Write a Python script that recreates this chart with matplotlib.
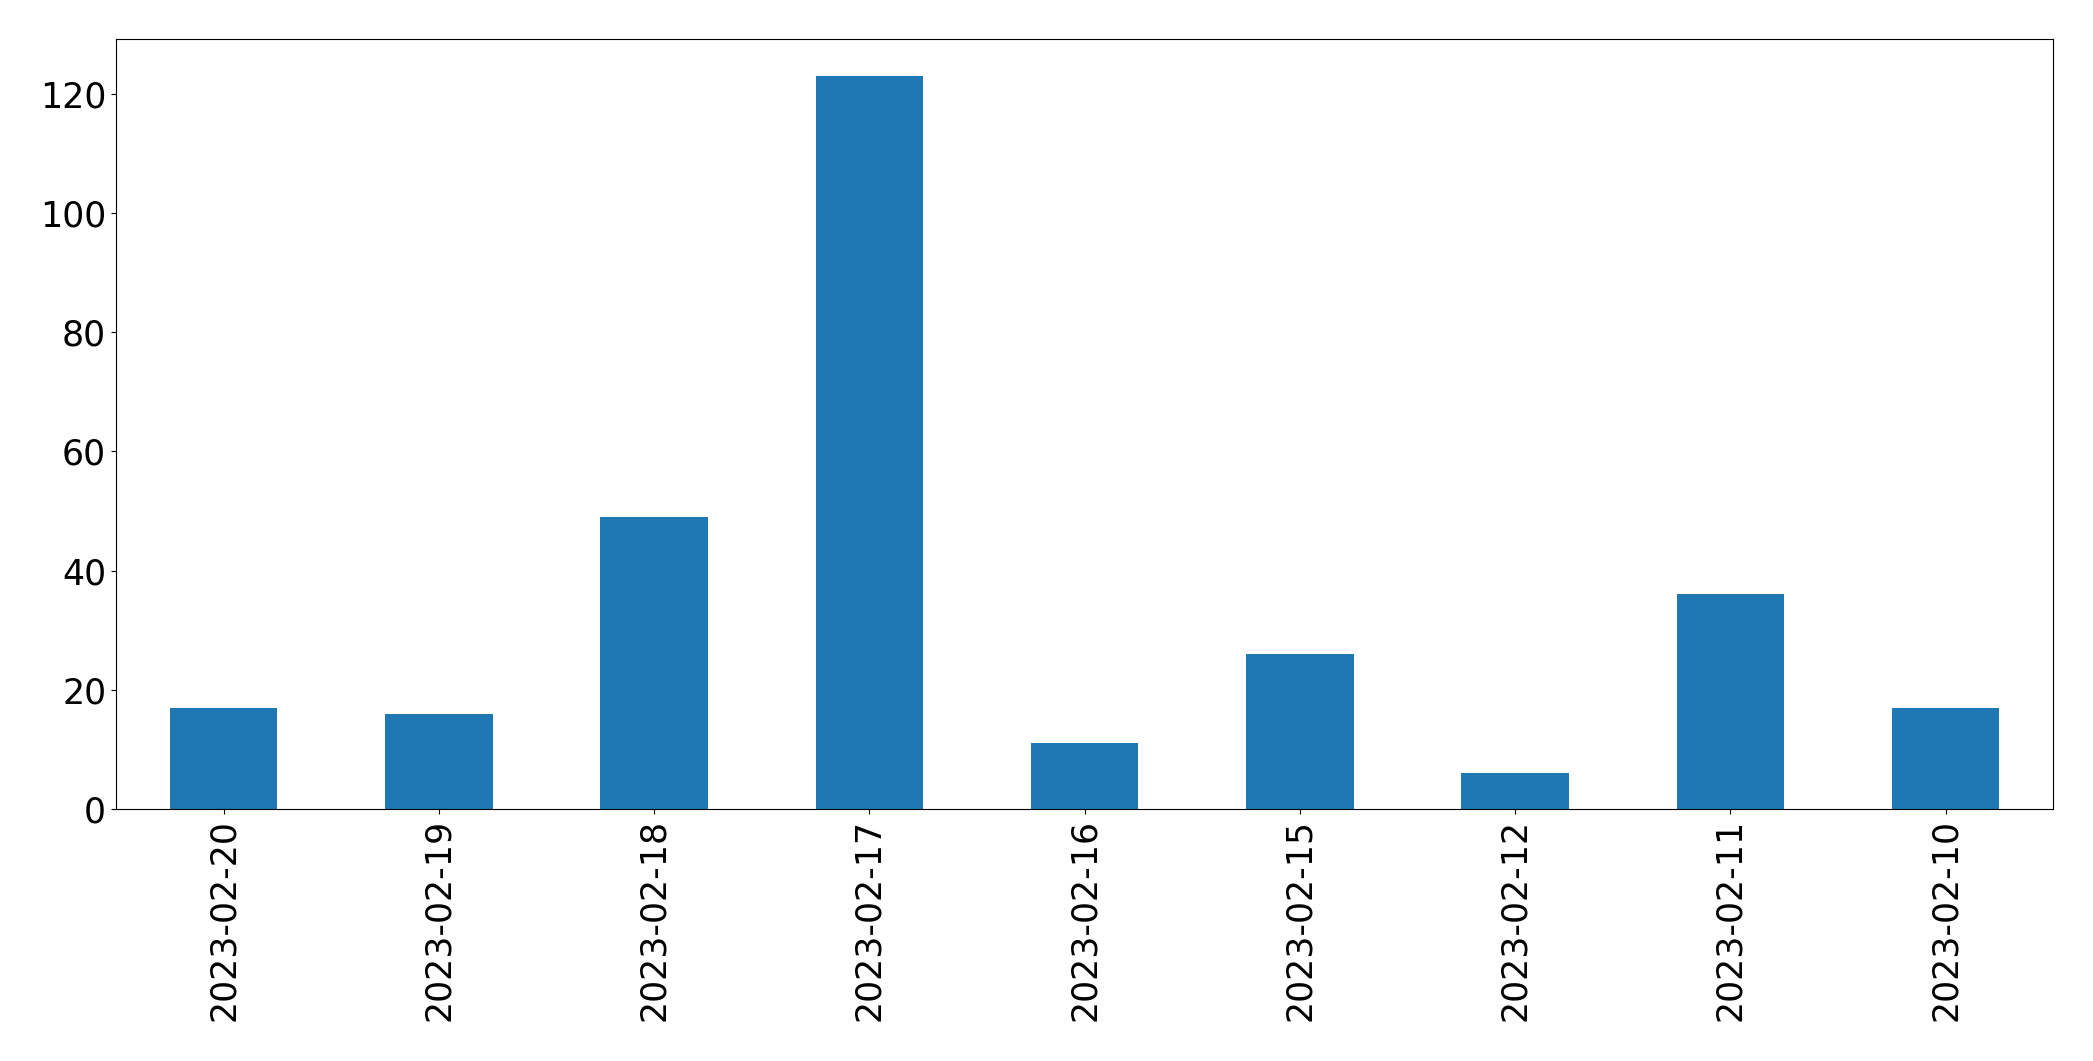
import numpy as np
import matplotlib.pyplot as plt

dates = ['2023-02-20', '2023-02-19', '2023-02-18', '2023-02-17', '2023-02-16',
         '2023-02-15', '2023-02-12', '2023-02-11', '2023-02-10']
counts = [17, 16, 49, 123, 11, 26, 6, 36, 17]

fig = plt.figure(figsize=(20.93, 10.61), dpi=100)
ax = fig.add_axes([0.0554, 0.2375, 0.9256, 0.7255])

x = np.arange(len(dates))
ax.bar(x, counts, width=0.5, color='#1f77b4')
ax.set_xlim(-0.5, len(dates) - 0.5)
ax.set_xticks(x)
ax.set_xticklabels(dates, rotation=90)
ax.tick_params(labelsize=25)

fig.savefig('out.png', dpi=100)
